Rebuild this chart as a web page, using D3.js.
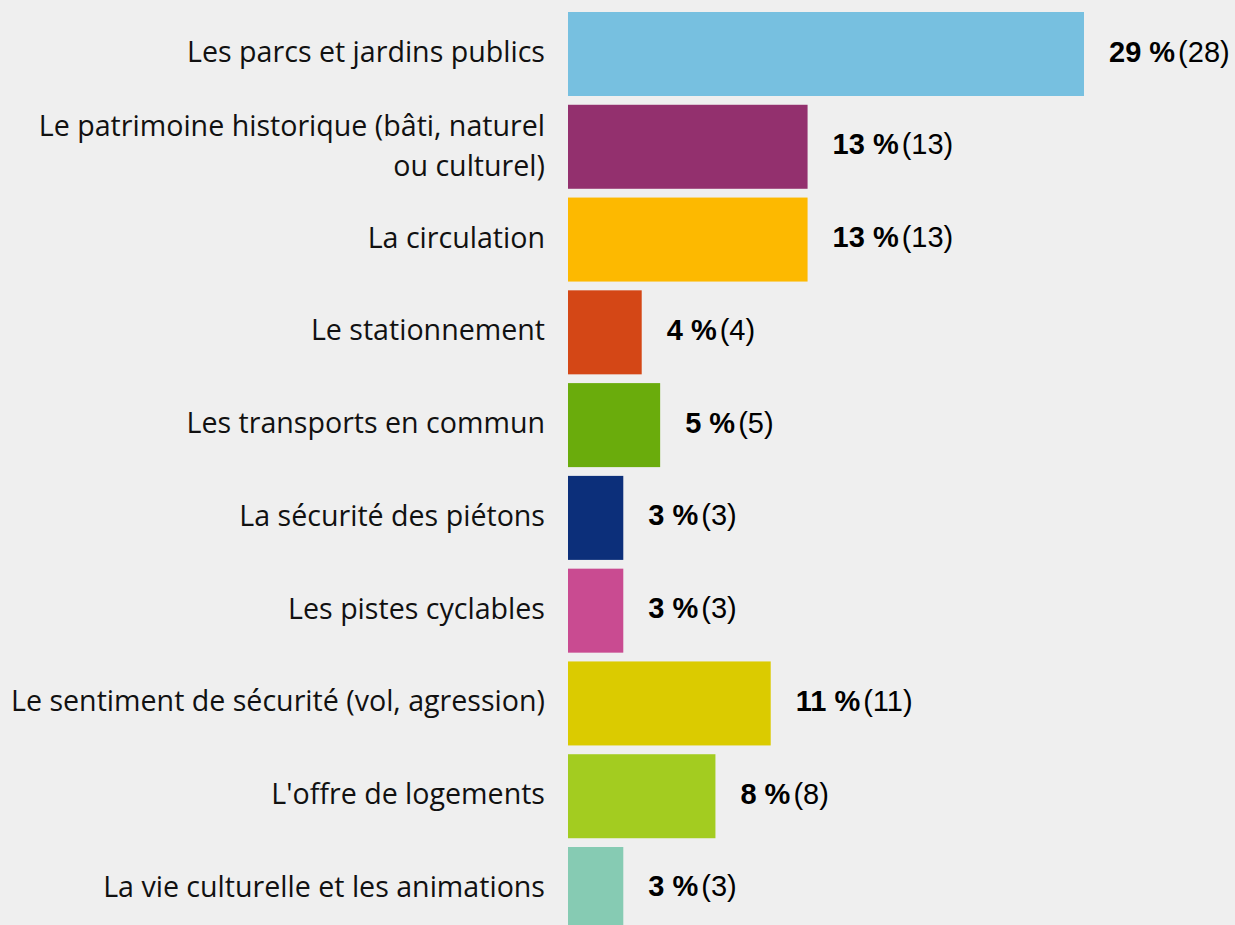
<!DOCTYPE html>
<html>
<head>
<meta charset="utf-8">
<script src="https://cdn.jsdelivr.net/npm/d3@7"></script>
<style>
  html, body { margin: 0; padding: 0; background: #efefef; }
  svg { display: block; }
</style>
</head>
<body>
<script>
// chart data ("\n" marks the line break of the label)
var categories = [
  "Les parcs et jardins publics",
  "Le patrimoine historique (bâti, naturel\nou culturel)",
  "La circulation",
  "Le stationnement",
  "Les transports en commun",
  "La sécurité des piétons",
  "Les pistes cyclables",
  "Le sentiment de sécurité (vol, agression)",
  "L'offre de logements",
  "La vie culturelle et les animations"
];
var counts = [28, 13, 13, 4, 5, 3, 3, 11, 8, 3];
var percents = [29, 13, 13, 4, 5, 3, 3, 11, 8, 3];
var colors = ["#77c0e0", "#93306e", "#fdb900", "#d44716", "#6aac0c",
              "#0c2f7a", "#c94b91", "#dbcb00", "#a3cc20", "#86cbb3"];

var width = 1235, height = 925;
var margin = {top: 12, left: 568};

var dataset = categories.map(function(c, i) {
  return {cat: c, n: counts[i], pct: percents[i], color: colors[i]};
});

var svg = d3.select("body").append("svg")
    .attr("width", width)
    .attr("height", height);

svg.append("rect")
    .attr("width", width)
    .attr("height", height)
    .attr("fill", "#efefef");

// x scale: bar length follows the count
var x = d3.scaleLinear()
    .domain([0, 28])
    .range([margin.left, 1084]);

var y = d3.scaleBand()
    .domain(categories)
    .range([margin.top, margin.top + 919])
    .paddingInner(0.0946)
    .paddingOuter(0);

// bars
svg.selectAll("rect.bar")
    .data(dataset)
    .enter()
    .append("rect")
    .attr("class", "bar")
    .attr("x", x(0))
    .attr("y", function(d) { return y(d.cat); })
    .attr("width", function(d) { return x(d.n) - x(0); })
    .attr("height", y.bandwidth())
    .attr("fill", function(d) { return d.color; });

// category labels, right aligned next to the bars
svg.selectAll("text.cat")
    .data(dataset)
    .enter()
    .append("text")
    .attr("class", "cat")
    .attr("text-anchor", "end")
    .style("font-family", "'Open Sans', sans-serif")
    .style("font-size", "28.6px")
    .attr("fill", "#111")
    .each(function(d) {
      var el = d3.select(this);
      var lines = d.cat.split("\n");
      var cy = y(d.cat) + y.bandwidth() / 2;
      var first = cy + 8 - (lines.length - 1) * 19;
      lines.forEach(function(l, i) {
        el.append("tspan")
          .attr("x", 545)
          .attr("y", first + i * 40.5)
          .text(l);
      });
    });

// value labels: bold percent then count in brackets
var vals = svg.selectAll("text.val")
    .data(dataset)
    .enter()
    .append("text")
    .attr("class", "val")
    .attr("x", function(d) { return x(d.n) + 25; })
    .attr("y", function(d) { return y(d.cat) + y.bandwidth() / 2 + 7.5; })
    .style("font-family", "'Liberation Sans', Arial, sans-serif")
    .style("font-size", "29px")
    .attr("fill", "#000");

vals.append("tspan")
    .style("font-weight", "bold")
    .text(function(d) { return d.pct + " %"; });

vals.append("tspan")
    .attr("dx", 3)
    .text(function(d) { return "(" + d.n + ")"; });
</script>
</body>
</html>
